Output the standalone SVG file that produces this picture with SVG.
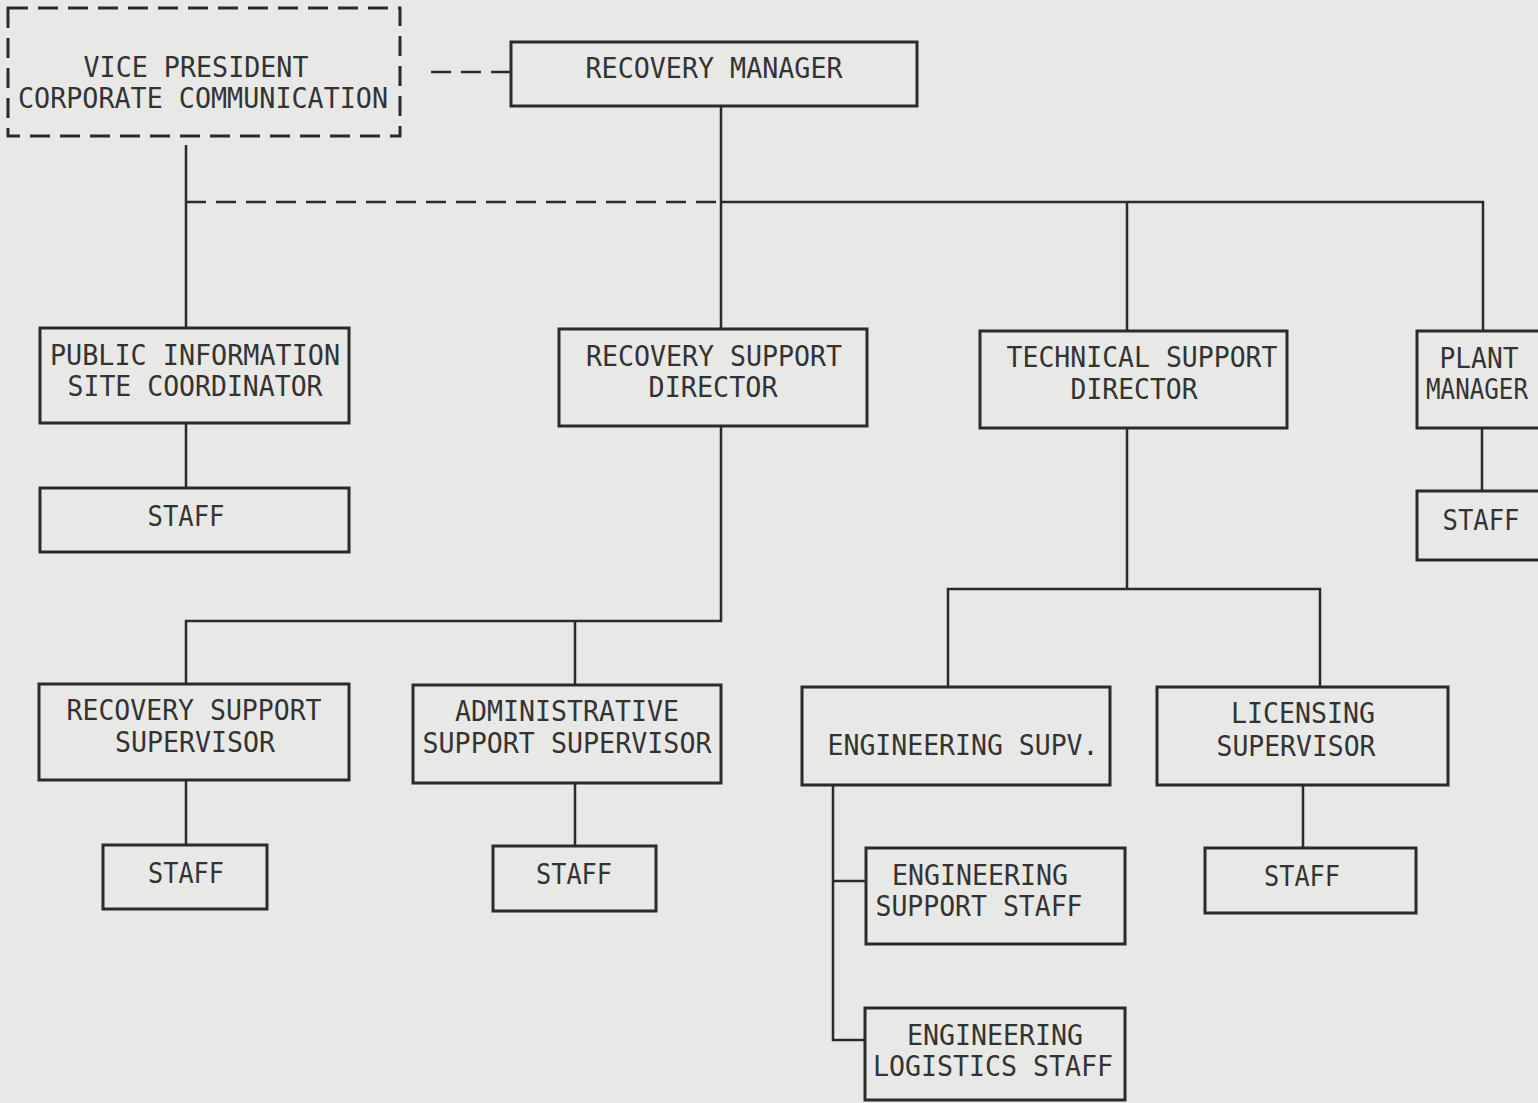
<svg xmlns="http://www.w3.org/2000/svg" width="1538" height="1103" viewBox="0 0 1538 1103">
<style>
.b{fill:none;stroke:#2b2b2b;stroke-width:3}
.d{fill:none;stroke:#2b2b2b;stroke-width:3;stroke-dasharray:20 10}
.c{fill:none;stroke:#2b2b2b;stroke-width:2.5}
.cd{fill:none;stroke:#2b2b2b;stroke-width:2.5;stroke-dasharray:20 10}
text{font-family:"DejaVu Sans Mono","Liberation Mono",monospace;font-size:28px;fill:#333;text-anchor:middle}
</style>
<rect width="1538" height="1103" fill="#e8e8e6"/>
<g id="connectors">
<path class="cd" d="M511 72H425"/>
<path class="c" d="M721 106V329"/>
<path class="cd" d="M186 202H721"/>
<path class="c" d="M721 202H1483V331"/>
<path class="c" d="M1127 202V331"/>
<path class="c" d="M186 145V328"/>
<path class="c" d="M186 423V488"/>
<path class="c" d="M1482 428V491"/>
<path class="c" d="M721 426V621H186V684"/>
<path class="c" d="M575 621V685"/>
<path class="c" d="M1127 428V589"/>
<path class="c" d="M948 687V589H1320V687"/>
<path class="c" d="M186 780V845"/>
<path class="c" d="M575 783V846"/>
<path class="c" d="M833 785V1040H865"/>
<path class="c" d="M833 881H866"/>
<path class="c" d="M1303 785V848"/>
</g>
<g id="vp"><rect class="d" x="8" y="8" width="392" height="128"/><text x="196" y="77" textLength="225" lengthAdjust="spacingAndGlyphs">VICE PRESIDENT</text><text x="203" y="108" textLength="370" lengthAdjust="spacingAndGlyphs">CORPORATE COMMUNICATION</text></g>
<g id="rm"><rect class="b" x="511" y="42" width="406" height="64"/><text x="714" y="78" textLength="257" lengthAdjust="spacingAndGlyphs">RECOVERY MANAGER</text></g>
<g id="pi"><rect class="b" x="40" y="328" width="309" height="95"/><text x="195" y="365" textLength="290" lengthAdjust="spacingAndGlyphs">PUBLIC INFORMATION</text><text x="195" y="396" textLength="255" lengthAdjust="spacingAndGlyphs">SITE COORDINATOR</text></g>
<g id="rsd"><rect class="b" x="559" y="329" width="308" height="97"/><text x="714" y="366" textLength="256" lengthAdjust="spacingAndGlyphs">RECOVERY SUPPORT</text><text x="713" y="397" textLength="129" lengthAdjust="spacingAndGlyphs">DIRECTOR</text></g>
<g id="tsd"><rect class="b" x="980" y="331" width="307" height="97"/><text x="1142" y="367" textLength="271" lengthAdjust="spacingAndGlyphs">TECHNICAL SUPPORT</text><text x="1134" y="399" textLength="127" lengthAdjust="spacingAndGlyphs">DIRECTOR</text></g>
<g id="pm"><rect class="b" x="1417" y="331" width="130" height="97"/><text x="1479" y="368" textLength="79" lengthAdjust="spacingAndGlyphs">PLANT</text><text x="1477" y="399" textLength="102" lengthAdjust="spacingAndGlyphs">MANAGER</text></g>
<g id="staff-pi"><rect class="b" x="40" y="488" width="309" height="64"/><text x="186" y="526" textLength="77" lengthAdjust="spacingAndGlyphs">STAFF</text></g>
<g id="staff-pm"><rect class="b" x="1417" y="491" width="130" height="69"/><text x="1481" y="530" textLength="77" lengthAdjust="spacingAndGlyphs">STAFF</text></g>
<g id="rss"><rect class="b" x="39" y="684" width="310" height="96"/><text x="194" y="720" textLength="255" lengthAdjust="spacingAndGlyphs">RECOVERY SUPPORT</text><text x="195" y="752" textLength="160" lengthAdjust="spacingAndGlyphs">SUPERVISOR</text></g>
<g id="ass"><rect class="b" x="413" y="685" width="308" height="98"/><text x="567" y="721" textLength="224" lengthAdjust="spacingAndGlyphs">ADMINISTRATIVE</text><text x="567" y="753" textLength="289" lengthAdjust="spacingAndGlyphs">SUPPORT SUPERVISOR</text></g>
<g id="es"><rect class="b" x="802" y="687" width="308" height="98"/><text x="963" y="755" textLength="271" lengthAdjust="spacingAndGlyphs">ENGINEERING SUPV.</text></g>
<g id="ls"><rect class="b" x="1157" y="687" width="291" height="98"/><text x="1303" y="723" textLength="144" lengthAdjust="spacingAndGlyphs">LICENSING</text><text x="1296" y="756" textLength="159" lengthAdjust="spacingAndGlyphs">SUPERVISOR</text></g>
<g id="staff-rss"><rect class="b" x="103" y="845" width="164" height="64"/><text x="186" y="883" textLength="76" lengthAdjust="spacingAndGlyphs">STAFF</text></g>
<g id="staff-ass"><rect class="b" x="493" y="846" width="163" height="65"/><text x="574" y="884" textLength="76" lengthAdjust="spacingAndGlyphs">STAFF</text></g>
<g id="ess"><rect class="b" x="866" y="848" width="259" height="96"/><text x="980" y="885" textLength="176" lengthAdjust="spacingAndGlyphs">ENGINEERING</text><text x="979" y="916" textLength="207" lengthAdjust="spacingAndGlyphs">SUPPORT STAFF</text></g>
<g id="staff-ls"><rect class="b" x="1205" y="848" width="211" height="65"/><text x="1302" y="886" textLength="76" lengthAdjust="spacingAndGlyphs">STAFF</text></g>
<g id="els"><rect class="b" x="865" y="1008" width="260" height="92"/><text x="995" y="1045" textLength="176" lengthAdjust="spacingAndGlyphs">ENGINEERING</text><text x="993" y="1076" textLength="240" lengthAdjust="spacingAndGlyphs">LOGISTICS STAFF</text></g>
</svg>
